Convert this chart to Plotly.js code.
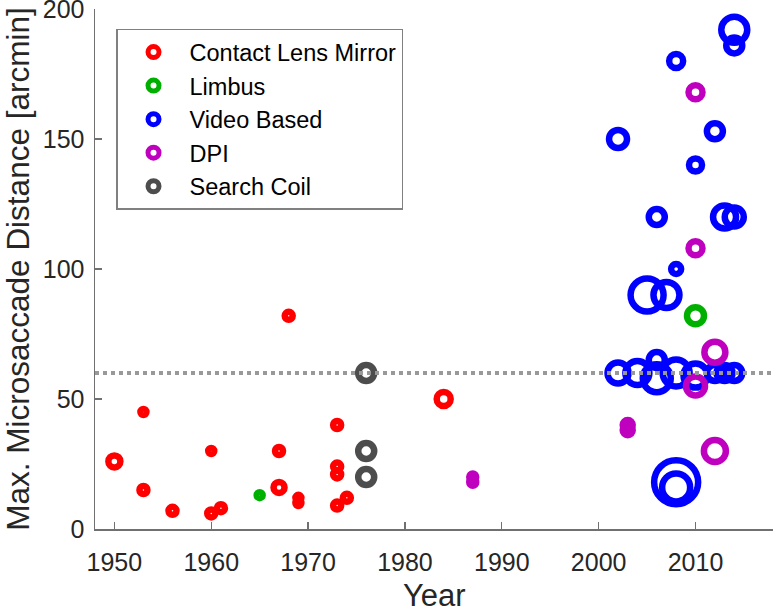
<!DOCTYPE html>
<html>
<head>
<meta charset="utf-8">
<script src="https://cdn.plot.ly/plotly-3.0.1.min.js"></script>
<style>
  html, body { margin: 0; padding: 0; background: #fff; }
  #chart { width: 773px; height: 610px; }
</style>
</head>
<body>
<div id="chart"></div>
<script>
// categories (legend order)
var methods = ['Contact Lens Mirror', 'Limbus', 'Video Based', 'DPI', 'Search Coil'];
var methodColors = ['#ff0000', '#00b000', '#0000ff', '#bf00bf', '#4d4d4d'];

// Contact Lens Mirror
var clmYear = [1950, 1953, 1953, 1956, 1960, 1960, 1961, 1967, 1967, 1968, 1969, 1969, 1973, 1973, 1973, 1973, 1974, 1984];
var clmDist = [26, 45, 15, 7, 30, 6, 8, 30, 16, 82, 12, 10, 40, 24, 21, 9, 12, 50];
var clmRing = [12, 6, 8, 8, 6, 8, 8, 8, 11, 8, 6, 6, 8, 8, 8, 8, 8, 14];

// Limbus
var limYear = [1965, 2010];
var limDist = [13, 82];
var limRing = [6, 17];

// Video Based
var vidYear = [2002, 2008, 2014, 2014, 2012, 2010, 2006, 2013, 2014, 2008, 2005, 2007,
               2002, 2004, 2006, 2006, 2008, 2010, 2012, 2013, 2014, 2008, 2008];
var vidDist = [150, 180, 192, 186, 153, 140, 120, 120, 120, 100, 90, 90,
               60, 60, 65, 58, 60, 59, 60, 60, 60, 18, 16];
var vidRing = [18, 14, 26, 16, 16, 13, 16, 23, 19, 10, 33, 26,
               21, 24, 16, 28, 27, 24, 16, 16, 16, 44, 28];

// DPI
var dpiYear = [1987, 1987, 2003, 2003, 2010, 2010, 2012, 2010, 2012];
var dpiDist = [20, 18, 40, 38, 168, 108, 68, 55, 30];
var dpiRing = [7, 7, 10, 10, 14, 14, 21, 19, 22];

// Search Coil
var scYear = [1976, 1976, 1976];
var scDist = [60, 30, 20];
var scRing = [16, 16, 16];

var threshold = 60;
var xTicks = [1950, 1960, 1970, 1980, 1990, 2000, 2010];
var yTicks = [0, 50, 100, 150, 200];

var groups = [
  [clmYear, clmDist, clmRing],
  [limYear, limDist, limRing],
  [vidYear, vidDist, vidRing],
  [dpiYear, dpiDist, dpiRing],
  [scYear, scDist, scRing]
];

var traces = [];
groups.forEach(function (g, i) {
  traces.push({
    x: g[0], y: g[1], type: 'scatter', mode: 'markers',
    name: methods[i], showlegend: false, hoverinfo: 'x+y',
    marker: { symbol: 'circle-open', size: g[2], color: methodColors[i], opacity: 1,
              line: { width: 6.5, color: methodColors[i] } }
  });
});
// legend entries
methods.forEach(function (m, i) {
  traces.push({
    x: [null], y: [null], type: 'scatter', mode: 'markers', name: m,
    marker: { symbol: 'circle-open', size: 11, color: methodColors[i], opacity: 1,
              line: { width: 5, color: methodColors[i] } }
  });
});

var font = 'Liberation Sans, Arial, Helvetica, sans-serif';
var layout = {
  width: 773, height: 610,
  margin: { l: 95, r: 0, t: 9, b: 81 },
  paper_bgcolor: '#fff', plot_bgcolor: '#fff',
  font: { family: font, color: '#262626', size: 25 },
  showlegend: true,
  legend: {
    x: 0.031, y: 0.962, xanchor: 'left', yanchor: 'top',
    bgcolor: '#fff', bordercolor: '#808080', borderwidth: 1.5,
    font: { family: font, size: 23.5, color: '#000' },
    itemwidth: 62
  },
  xaxis: {
    range: [1948, 2018], tickvals: xTicks, ticks: 'inside', ticklen: 7,
    tickcolor: '#707070', tickwidth: 1.3, showline: true, linecolor: '#707070', linewidth: 1.5,
    showgrid: false, zeroline: false, ticklabelstandoff: 10, ticklabeloverflow: 'allow',
    tickfont: { size: 25, color: '#262626' }
  },
  yaxis: {
    range: [0, 200], tickvals: yTicks, ticks: 'inside', ticklen: 7,
    tickcolor: '#707070', tickwidth: 1.3, showline: true, linecolor: '#707070', linewidth: 1.5,
    showgrid: false, zeroline: false, ticklabelstandoff: 4, ticklabeloverflow: 'allow',
    tickfont: { size: 25, color: '#262626' },
    title: { text: 'Max. Microsaccade Distance [arcmin]', font: { size: 31.5, color: '#262626' }, standoff: 8 }
  },
  annotations: [{
    text: 'Year', xref: 'paper', yref: 'paper', x: 0.5, y: 0, yshift: -66,
    xanchor: 'center', yanchor: 'middle', showarrow: false,
    font: { size: 31, color: '#262626' }
  }],
  shapes: [{
    type: 'line', xref: 'paper', yref: 'y', x0: 0, x1: 1, y0: threshold, y1: threshold,
    line: { color: '#999999', width: 4, dash: '4px,4px' }, layer: 'above'
  }]
};

Plotly.newPlot('chart', traces, layout, { staticPlot: true });
</script>
</body>
</html>
